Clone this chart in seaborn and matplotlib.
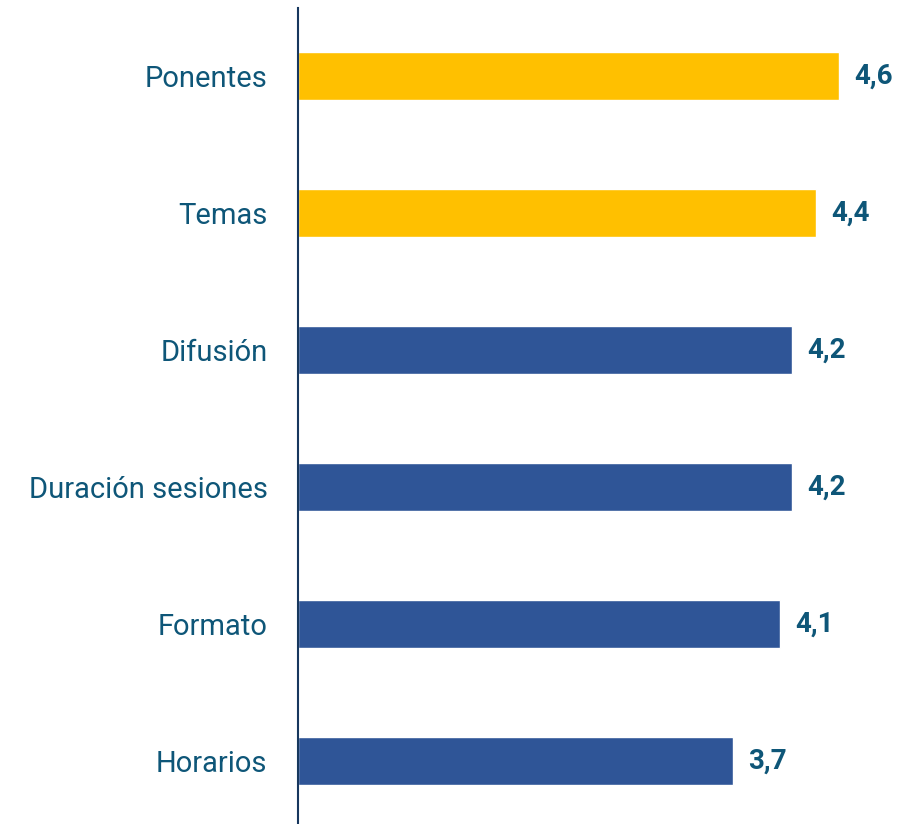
import matplotlib
matplotlib.use("Agg")
import matplotlib.pyplot as plt
import seaborn as sns
import pandas as pd

categories = ["Ponentes", "Temas", "Difusión", "Duración sesiones", "Formato", "Horarios"]
values = [4.6, 4.4, 4.2, 4.2, 4.1, 3.7]
value_labels = ["4,6", "4,4", "4,2", "4,2", "4,1", "3,7"]
highlight = [True, True, False, False, False, False]

df = pd.DataFrame({"categoria": categories, "valor": values,
                   "grupo": ["top" if h else "resto" for h in highlight]})

sns.set_style("white")
plt.rcParams['font.family'] = ['Roboto', 'DejaVu Sans']

text_color = "#0E5678"
fig = plt.figure(figsize=(9.1, 8.24), dpi=100)
ax = fig.add_axes([0.3275, 0.0, 0.6462, 0.9903])

sns.barplot(data=df, x="valor", y="categoria", hue="grupo",
            palette={"top": "#FFC000", "resto": "#2F5597"},
            width=0.355, dodge=False, legend=False, ax=ax, saturation=1)

ax.set_xlim(0, 5)
ax.set_ylim(5.46, -0.496)

for i, (v, lbl) in enumerate(zip(values, value_labels)):
    ax.annotate(lbl, (v, i), xytext=(11, 0), textcoords='offset points',
                ha='left', va='center', fontsize=20, fontweight='bold',
                color=text_color)

ax.set_xlabel("")
ax.set_ylabel("")
ax.set_xticks([])
ax.tick_params(axis='y', length=0, pad=22, labelsize=21, labelcolor=text_color)
for s in ["top", "right", "bottom"]:
    ax.spines[s].set_visible(False)
ax.spines["left"].set_color("#17375E")
ax.spines["left"].set_linewidth(1.5)

fig.savefig("out.png", dpi=100)
